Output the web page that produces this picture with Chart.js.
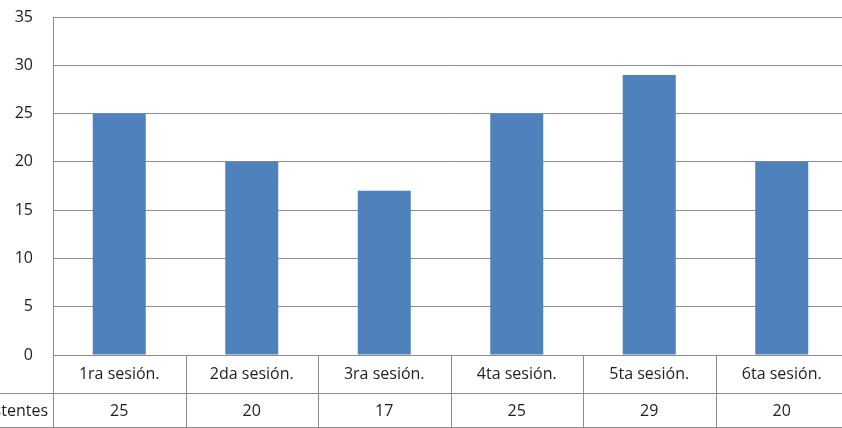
<!DOCTYPE html>
<html>
<head>
<meta charset="utf-8">
<script src="https://cdn.jsdelivr.net/npm/chart.js@4/dist/chart.umd.min.js"></script>
<style>
  html, body { margin: 0; padding: 0; background: #fff; overflow: hidden; }
  #wrap { position: relative; width: 848px; height: 428px; }
</style>
</head>
<body>
<div id="wrap"><canvas id="c"></canvas></div>
<script>
(function () {
  var sessions = ['1ra sesión.', '2da sesión.', '3ra sesión.', '4ta sesión.', '5ta sesión.', '6ta sesión.'];
  var attendees = [25, 20, 17, 25, 29, 20];
  var rowLabel = 'Asistentes';
  var yTicks = [0, 5, 10, 15, 20, 25, 30, 35];

  var lineColor = '#8c8c8c';
  var textColor = '#1e1e1e';
  var fontFamily = "'Open Sans', 'DejaVu Sans', sans-serif";

  // data table under the plot, drawn from the x scale
  var dataTable = {
    id: 'dataTable',
    afterDraw: function (chart) {
      var c = chart.ctx, a = chart.chartArea, x = chart.scales.x;
      var n = sessions.length, w = (a.right - a.left) / n;
      var r1 = a.bottom + 38, r2 = chart.height - 1;
      c.save();
      c.strokeStyle = lineColor;
      c.lineWidth = 1;
      c.beginPath();
      c.moveTo(a.left, a.bottom + 0.5); c.lineTo(chart.width, a.bottom + 0.5);
      c.moveTo(0, r1 + 0.5); c.lineTo(chart.width, r1 + 0.5);
      c.moveTo(0, r2 + 0.5); c.lineTo(chart.width, r2 + 0.5);
      c.moveTo(a.left + 0.5, a.top); c.lineTo(a.left + 0.5, r2);
      for (var i = 1; i < n; i++) {
        var bx = Math.round(a.left + i * w) + 0.5;
        c.moveTo(bx, a.bottom); c.lineTo(bx, r2);
      }
      c.stroke();
      c.fillStyle = textColor;
      c.font = '16px ' + fontFamily;
      c.textBaseline = 'middle';
      c.textAlign = 'center';
      sessions.forEach(function (s, i) {
        var cx = x.getPixelForValue(i);
        c.fillText(s, cx, (a.bottom + r1) / 2);
        c.fillText(String(attendees[i]), cx, (r1 + r2) / 2 + 1);
      });
      c.textAlign = 'right';
      c.fillText(rowLabel, a.left - 5, (r1 + r2) / 2 + 1);
      c.restore();
    }
  };

  new Chart(document.getElementById('c'), {
    type: 'bar',
    data: {
      labels: sessions,
      datasets: [{
        data: attendees,
        backgroundColor: '#4f81bd',
        borderWidth: 0,
        categoryPercentage: 1,
        barPercentage: 0.4
      }]
    },
    options: {
      responsive: true,
      maintainAspectRatio: false,
      animation: false,
      layout: { padding: { top: 17, bottom: 73, left: 0, right: 0 } },
      plugins: { legend: { display: false }, tooltip: { enabled: false } },
      scales: {
        x: { display: false },
        y: {
          min: 0, max: 35,
          afterBuildTicks: function (s) { s.ticks = yTicks.map(function (v) { return { value: v }; }); },
          afterFit: function (s) { s.width = 53; s.paddingTop = 0; s.paddingBottom = 0; },
          border: { display: false },
          grid: { color: lineColor, drawTicks: false, lineWidth: 1 },
          ticks: {
            padding: 20,
            color: textColor,
            font: { size: 16, family: fontFamily }
          }
        }
      }
    },
    plugins: [dataTable]
  });
})();
</script>
</body>
</html>
